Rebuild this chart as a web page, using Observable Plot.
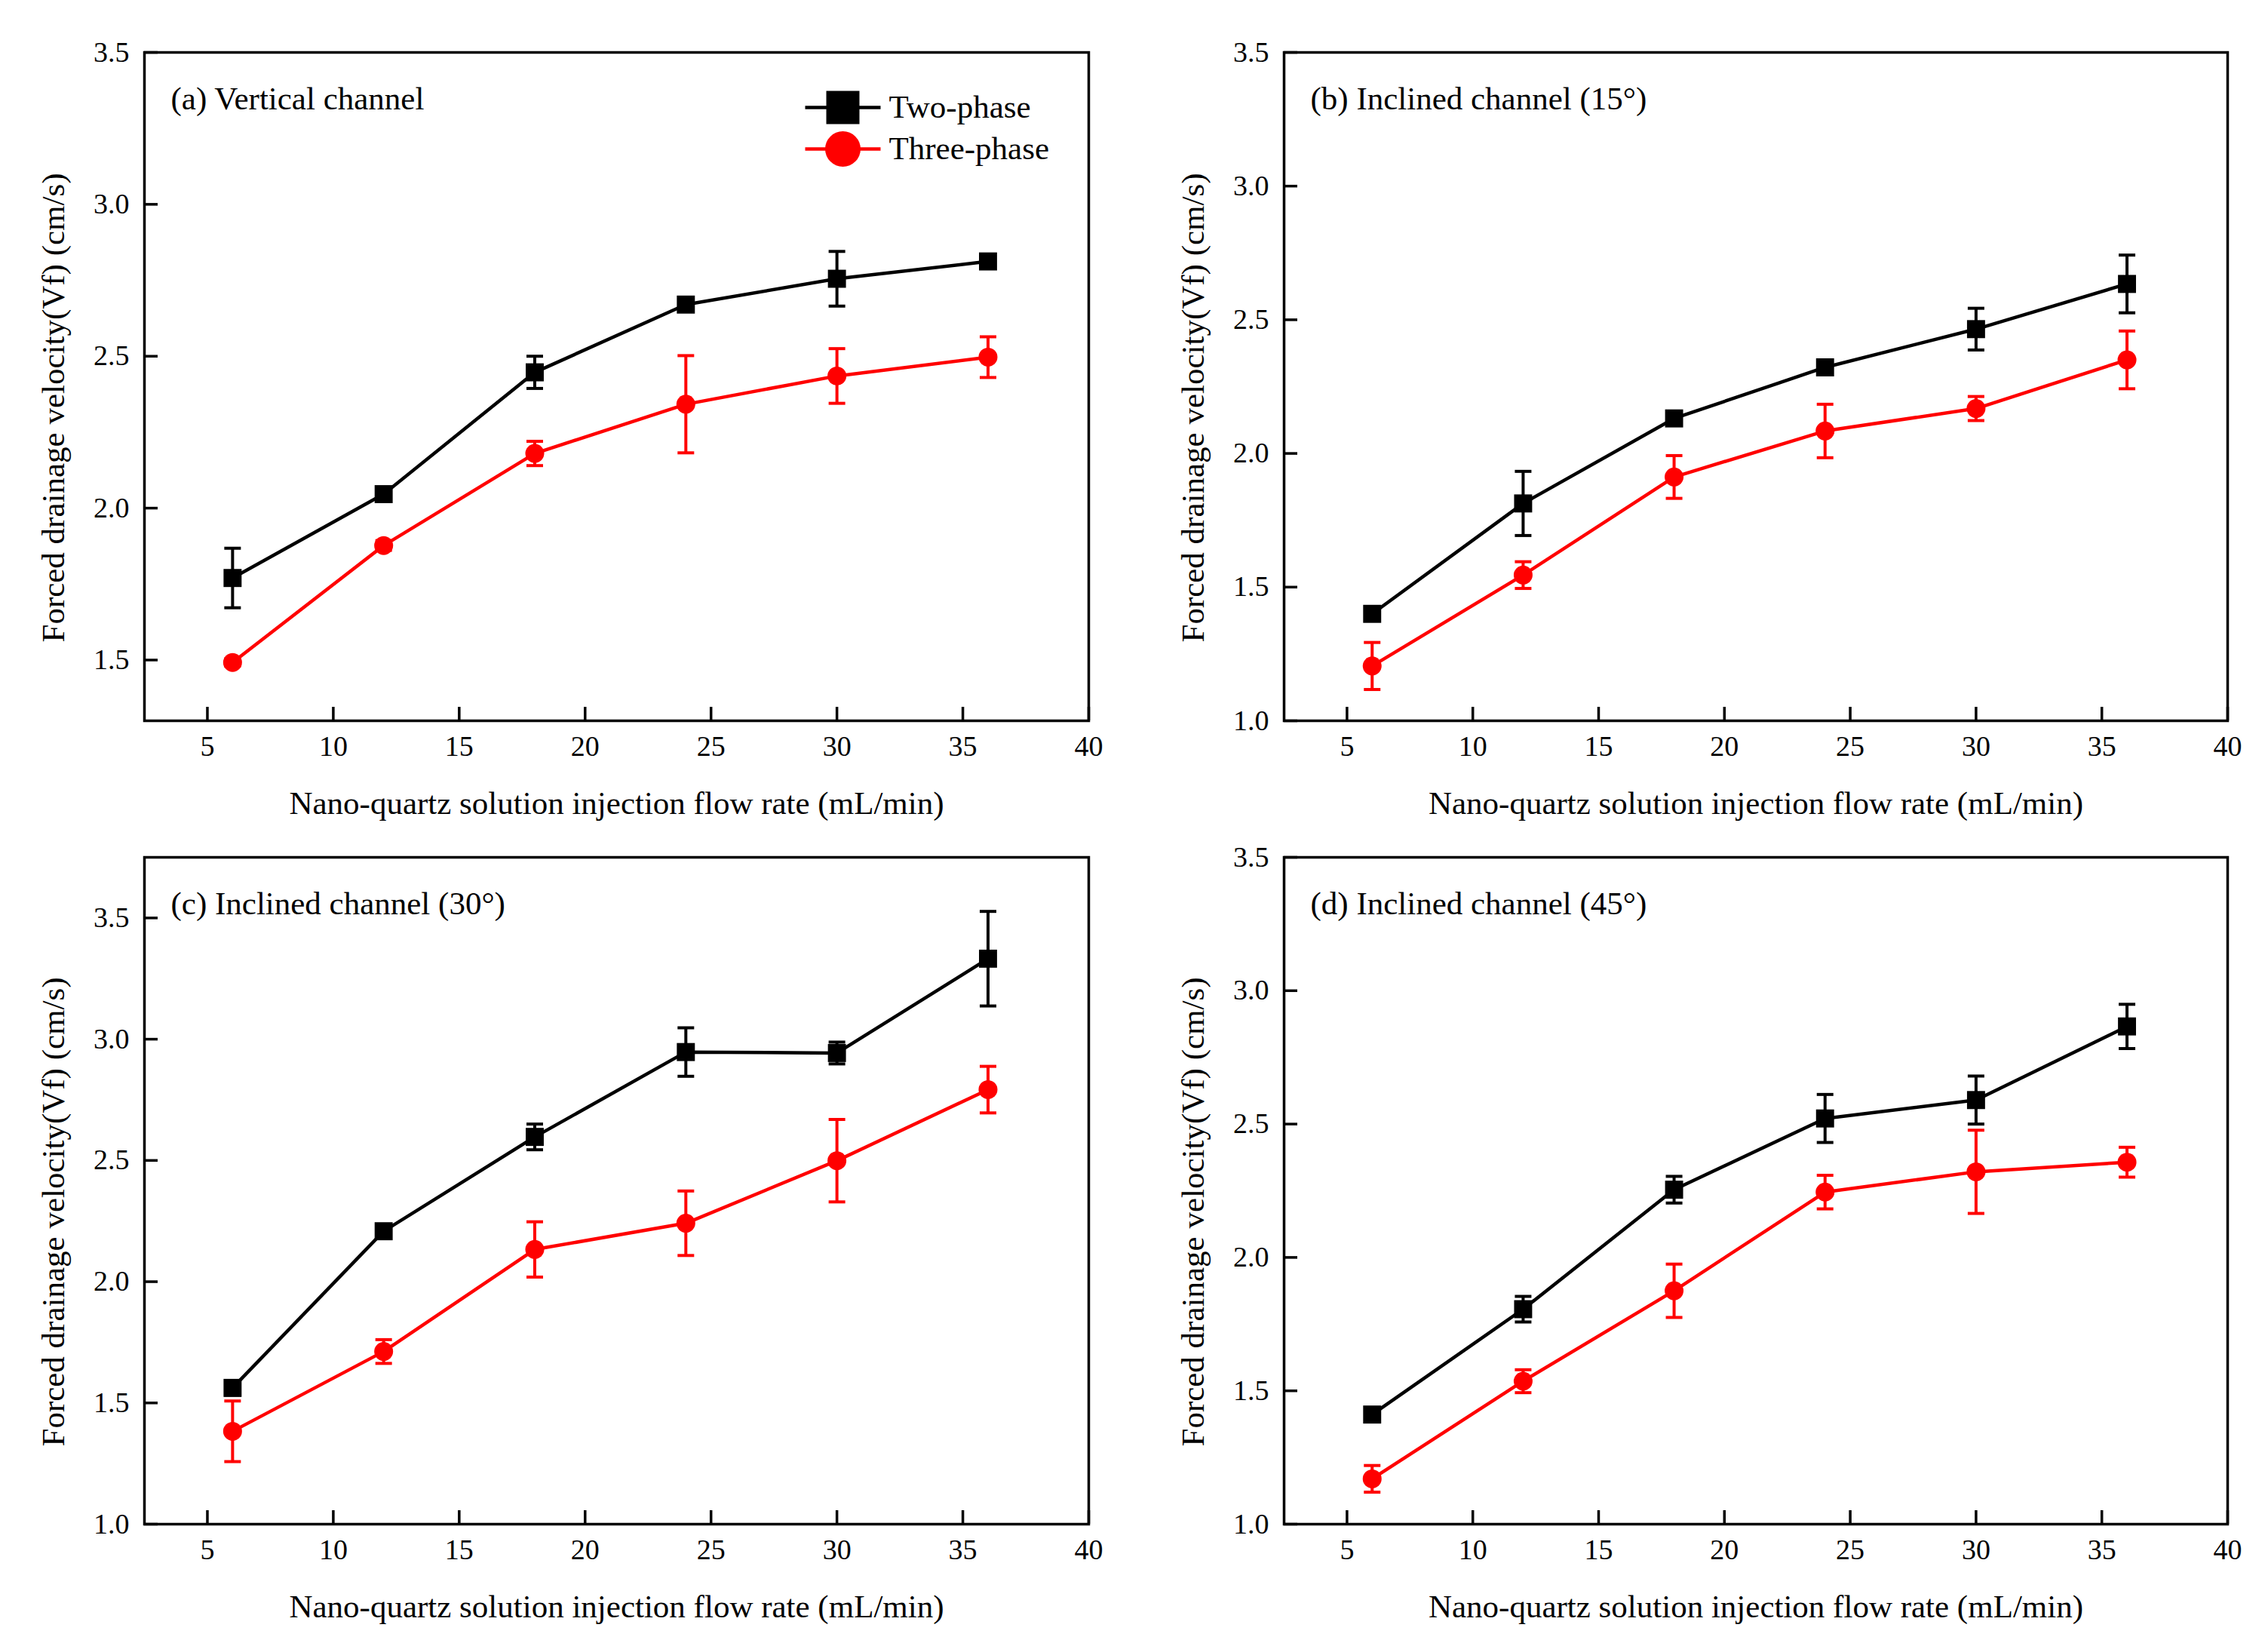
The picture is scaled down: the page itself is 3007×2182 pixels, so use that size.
<!DOCTYPE html>
<html>
<head>
<meta charset="utf-8">
<script src="https://cdn.jsdelivr.net/npm/d3@7"></script>
<script src="https://cdn.jsdelivr.net/npm/@observablehq/plot@0.6"></script>
<style>
  html, body { margin: 0; padding: 0; background: #fff; }
  #wrap { position: relative; width: 3007px; height: 2182px; background: #fff; overflow: hidden; }
  .panel { position: absolute; }
</style>
</head>
<body>
<div id="wrap"></div>
<script>
// ---------- data ----------
const flowRates = [6, 12, 18, 24, 30, 36];
const xTicks = [5, 10, 15, 20, 25, 30, 35, 40];
const seriesNames = ["Two-phase", "Three-phase"];
const seriesColors = ["#000000", "#ff0000"];

const aTwo      = [1.77, 2.046, 2.447, 2.670, 2.755, 2.812];
const aTwoErr   = [0.098, 0.014, 0.053, 0.012, 0.090, 0.012];
const aThree    = [1.492, 1.877, 2.180, 2.342, 2.435, 2.497];
const aThreeErr = [0.012, 0.016, 0.040, 0.160, 0.090, 0.067];

const bTwo      = [1.400, 1.813, 2.131, 2.322, 2.465, 2.634];
const bTwoErr   = [0.020, 0.120, 0.018, 0.015, 0.078, 0.108];
const bThree    = [1.205, 1.545, 1.912, 2.084, 2.168, 2.350];
const bThreeErr = [0.088, 0.050, 0.080, 0.100, 0.045, 0.108];

const cTwo      = [1.562, 2.208, 2.597, 2.947, 2.943, 3.332];
const cTwoErr   = [0.030, 0.018, 0.053, 0.100, 0.045, 0.195];
const cThree    = [1.383, 1.712, 2.133, 2.241, 2.499, 2.792];
const cThreeErr = [0.125, 0.049, 0.114, 0.133, 0.170, 0.096];

const dTwo      = [1.411, 1.806, 2.254, 2.521, 2.590, 2.866];
const dTwoErr   = [0.020, 0.048, 0.050, 0.090, 0.090, 0.083];
const dThree    = [1.170, 1.536, 1.875, 2.245, 2.321, 2.357];
const dThreeErr = [0.050, 0.043, 0.100, 0.063, 0.156, 0.056];

const yTicksA = [1.5, 2.0, 2.5, 3.0, 3.5];
const yTicksB = [1.0, 1.5, 2.0, 2.5, 3.0, 3.5];

const xLabel = "Nano-quartz solution injection flow rate (mL/min)";
const yLabel = "Forced drainage velocity(Vf) (cm/s)";

const FONT = "'Liberation Serif', 'Times New Roman', serif";

// ---------- helpers ----------
function rows(vals, errs, s) {
  return flowRates.map((x, i) => ({x, v: vals[i], e: errs[i], s}));
}
const capSymbol = {draw(ctx) { ctx.moveTo(-11, 0); ctx.lineTo(11, 0); }};
const legLineSymbol = {draw(ctx) { ctx.moveTo(-50, 0); ctx.lineTo(50, 0); }};

function panel({left, top, width, height, mL, mR, mT, mB, yDomain, yTicks, label, two, twoErr, three, threeErr, legend}) {
  const innerW = width - mL - mR, innerH = height - mT - mB;
  const data = [rows(two, twoErr, 0), rows(three, threeErr, 1)];
  const marks = [];
  // inward ticks
  marks.push(Plot.tickX(xTicks, {x: d => d, insetTop: innerH - 18, stroke: "#000", strokeWidth: 3.5}));
  marks.push(Plot.tickY(yTicks, {y: d => d, insetRight: innerW - 18, stroke: "#000", strokeWidth: 3.5}));
  marks.push(Plot.axisX(xTicks, {tickSize: 0, tickPadding: 20, fontSize: 38, label: null, tickFormat: d3.format("d")}));
  marks.push(Plot.axisY(yTicks, {tickSize: 0, tickPadding: 20, fontSize: 38, label: null, tickFormat: d3.format(".1f")}));
  marks.push(Plot.frame({stroke: "#000", strokeWidth: 3.5}));
  data.forEach((d, i) => {
    const c = seriesColors[i];
    marks.push(Plot.line(d, {x: "x", y: "v", stroke: c, strokeWidth: 4.5}));
    marks.push(Plot.ruleX(d, {x: "x", y1: r => r.v - r.e, y2: r => r.v + r.e, stroke: c, strokeWidth: 4}));
    marks.push(Plot.dot(d, {x: "x", y: r => r.v + r.e, symbol: capSymbol, stroke: c, strokeWidth: 4, r: 11}));
    marks.push(Plot.dot(d, {x: "x", y: r => r.v - r.e, symbol: capSymbol, stroke: c, strokeWidth: 4, r: 11}));
    marks.push(Plot.dot(d, {x: "x", y: "v", symbol: i === 0 ? "square" : "circle", fill: c, stroke: "none", r: i === 0 ? 13.5 : 12.5}));
  });
  // panel label and axis titles
  marks.push(Plot.text([label], {frameAnchor: "top-left", dx: 35, dy: 62, text: d => d, textAnchor: "start", lineAnchor: "middle", fontSize: 43, fill: "#000"}));
  marks.push(Plot.text([xLabel], {frameAnchor: "bottom", dy: 110, text: d => d, textAnchor: "middle", lineAnchor: "middle", fontSize: 43, fill: "#000"}));
  marks.push(Plot.text([yLabel], {frameAnchor: "left", dx: -120, dy: 28, rotate: -90, text: d => d, textAnchor: "middle", lineAnchor: "middle", fontSize: 43, fill: "#000"}));
  if (legend) {
    const lx = 926, ys = [73, 128];
    seriesNames.forEach((name, i) => {
      const c = seriesColors[i];
      marks.push(Plot.dot([name], {frameAnchor: "top-left", dx: lx, dy: ys[i], symbol: legLineSymbol, stroke: c, strokeWidth: 4.5, r: 1}));
      marks.push(Plot.dot([name], {frameAnchor: "top-left", dx: lx, dy: ys[i], symbol: i === 0 ? "square" : "circle", fill: c, r: i === 0 ? 24.8 : 23.5}));
      marks.push(Plot.text([name], {frameAnchor: "top-left", dx: lx + 61, dy: ys[i], text: d => d, textAnchor: "start", lineAnchor: "middle", fontSize: 43, fill: "#000"}));
    });
  }
  const svg = Plot.plot({
    width, height,
    marginLeft: mL, marginRight: mR, marginTop: mT, marginBottom: mB,
    x: {domain: [2.5, 40], axis: null},
    y: {domain: yDomain, axis: null},
    style: {fontFamily: FONT, background: "transparent", color: "#000", overflow: "visible"},
    marks
  });
  const div = document.createElement("div");
  div.className = "panel";
  div.style.left = left + "px";
  div.style.top = top + "px";
  div.appendChild(svg);
  document.getElementById("wrap").appendChild(div);
}

// top row: frame y 69..955 ; bottom row: frame y 1136..2020
panel({left: 0, top: 0, width: 1500, height: 1090, mL: 191, mR: 57, mT: 69, mB: 135,
  yDomain: [1.3, 3.5], yTicks: yTicksA, label: "(a) Vertical channel",
  two: aTwo, twoErr: aTwoErr, three: aThree, threeErr: aThreeErr, legend: true});
panel({left: 1507, top: 0, width: 1500, height: 1090, mL: 195, mR: 54, mT: 69, mB: 135,
  yDomain: [1.0, 3.5], yTicks: yTicksB, label: "(b) Inclined channel (15°)",
  two: bTwo, twoErr: bTwoErr, three: bThree, threeErr: bThreeErr});
panel({left: 0, top: 1067, width: 1500, height: 1115, mL: 191, mR: 57, mT: 69, mB: 162,
  yDomain: [1.0, 3.75], yTicks: yTicksB, label: "(c) Inclined channel (30°)",
  two: cTwo, twoErr: cTwoErr, three: cThree, threeErr: cThreeErr});
panel({left: 1507, top: 1067, width: 1500, height: 1115, mL: 195, mR: 54, mT: 69, mB: 162,
  yDomain: [1.0, 3.5], yTicks: yTicksB, label: "(d) Inclined channel (45°)",
  two: dTwo, twoErr: dTwoErr, three: dThree, threeErr: dThreeErr});
</script>
</body>
</html>
